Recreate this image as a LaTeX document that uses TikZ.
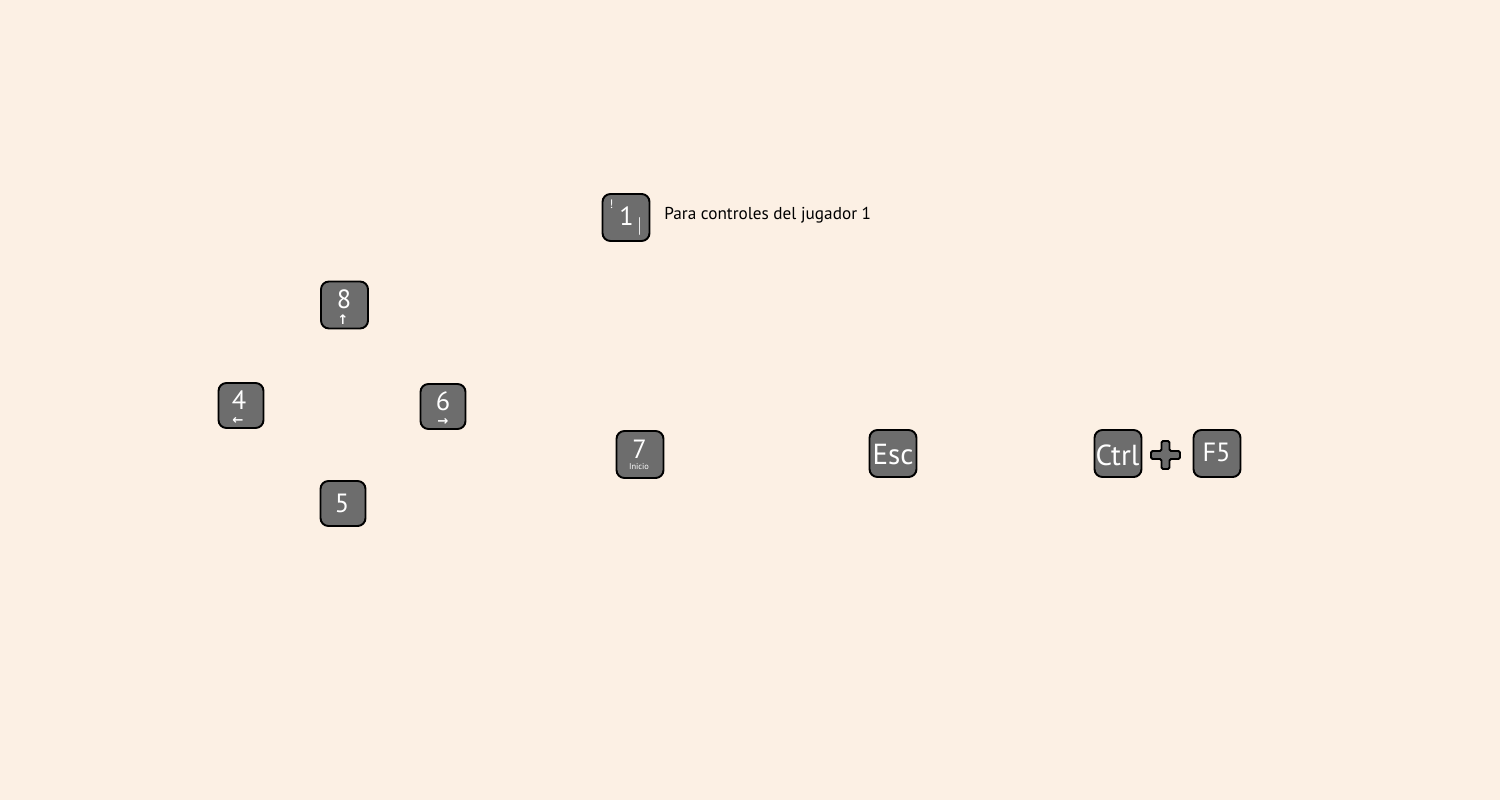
\documentclass[tikz,border=0pt]{standalone}
\usepackage{fontspec}
\setmainfont{PT Sans}
\newfontfamily\symfont{DejaVu Sans}
\usetikzlibrary{positioning}
\definecolor{fondo}{HTML}{FCF0E4}
\definecolor{tecla}{HTML}{6D6D6D}
\tikzset{
    keybox/.style={draw=black, fill=tecla, line width=1.1pt, rounded corners=4.5pt, minimum size=0.94cm, inner sep=0pt},
    smallkey/.style={keybox, minimum size=0.9cm},
    keytext/.style={text=white, font=\fontsize{15}{15}\selectfont, inner sep=0pt},
    keysub/.style={text=white, inner sep=0pt},
    arrowsub/.style={keysub, font=\symfont\bfseries\fontsize{7.5}{7}\selectfont},
}

\begin{document}
\begin{tikzpicture}[x=0.02cm, y=-0.02cm]
\useasboundingbox (0,0) rectangle (1500,800);
\fill[fondo] (0,0) rectangle (1500,800);

% tecla 1 y su texto
\node[keybox] (k1) at (626,217.5) {};
\node[keytext] (t1) at (626.5,216) {1};
\node[keysub, font=\fontsize{7}{7}\selectfont] (t1a) at (611.5,204) {!};
\node[keysub, font=\fontsize{12}{12}\selectfont\addfontfeature{FakeStretch=0.6}] (t1b) at (639.5,226) {|};
\node[anchor=west, font=\fontsize{9.8}{10}\selectfont, inner sep=0pt] (info) at (664,215) {Para controles del jugador 1};

% flechas
\node[keybox] (k8) at (344.5,305) {};
\node[keytext] (t8) at (344,299.5) {8};
\node[arrowsub] (a8) at (343,320) {↑};
\node[smallkey] (k4) at (241,405.5) {};
\node[keytext] (t4) at (239,400) {4};
\node[arrowsub] (a4) at (238,420.5) {←};
\node[smallkey] (k6) at (443,406.5) {};
\node[keytext] (t6) at (443,401) {6};
\node[arrowsub] (a6) at (443,422) {→};
\node[smallkey] (k5) at (343,503.5) {};
\node[keytext] (t5) at (342,503) {5};

% inicio, salir, reiniciar
\node[keybox] (k7) at (640,454.5) {};
\node[keytext] (t7) at (639.5,449) {7};
\node[keysub, font=\fontsize{4.8}{5}\selectfont] (i7) at (639,467) {Inicio};
\node[keybox] (kesc) at (893,453.5) {};
\node[keytext, font=\fontsize{16.5}{16}\selectfont] (tesc) at (893,455) {Esc};
\node[keybox] (kctrl) at (1118,453.5) {};
\node[keytext, font=\fontsize{16.5}{16}\selectfont] (tctrl) at (1117.5,455) {Ctrl};
\draw[fill=tecla, line width=1.1pt, rounded corners=0.8pt] (1161.5,441) -- (1169.5,441) -- (1169.5,451) -- (1180,451) -- (1180,459) -- (1169.5,459) -- (1169.5,469) -- (1161.5,469) -- (1161.5,459) -- (1151,459) -- (1151,451) -- (1161.5,451) -- cycle;
\node[keybox] (kf5) at (1217,453.5) {};
\node[keytext] (tf5) at (1216.5,452) {F5};
\end{tikzpicture}
\end{document}
